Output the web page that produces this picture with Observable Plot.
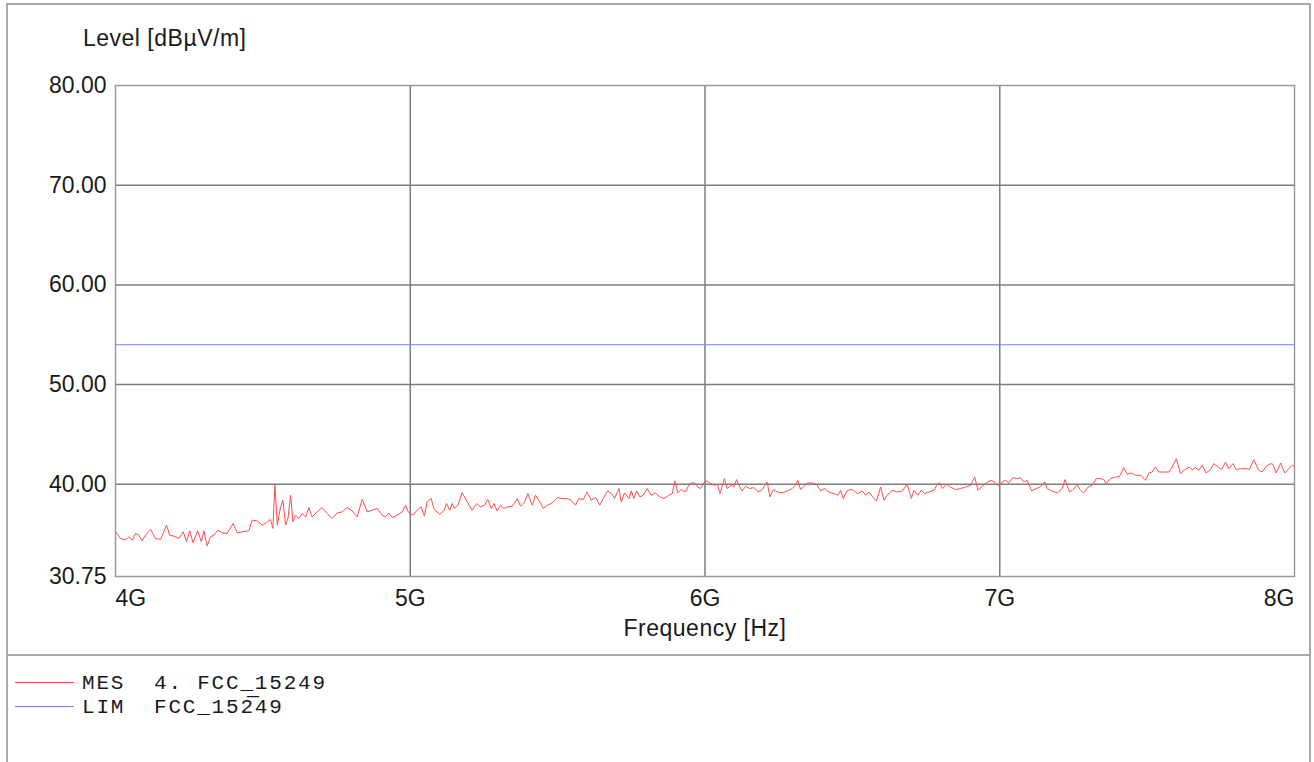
<!DOCTYPE html>
<html><head><meta charset="utf-8">
<script src="https://cdn.jsdelivr.net/npm/d3@7"></script>
<script src="https://cdn.jsdelivr.net/npm/@observablehq/plot@0.6"></script>
<style>
html,body{margin:0;padding:0;background:#fff;width:1314px;height:762px;overflow:hidden;position:relative}
#frame{position:absolute;left:6px;top:3px;width:1301px;height:820px;border:2px solid #a9a9a9;border-bottom:none}
#sep{position:absolute;left:6px;top:654px;width:1305px;height:2px;background:#a9a9a9}
#chart{position:absolute;left:0;top:0}
.lbl{position:absolute;font-family:"Liberation Sans",Arial,sans-serif;font-size:23px;line-height:23px;letter-spacing:0.5px;color:#1a1a1a;white-space:pre}
.leg{position:absolute;left:0;font-family:"Courier New","Liberation Mono",monospace;font-size:21px;line-height:23px;letter-spacing:1.8px;color:#1a1a1a;white-space:pre}
.legline{position:absolute;left:15px;width:59px;height:1px}
</style>
</head><body>
<div id="frame"></div>
<div id="sep"></div>
<div id="chart"></div>
<div class="lbl" id="ylab" style="left:83px;top:27px"></div>
<div class="lbl" id="xlab" style="left:555px;top:617px;width:300px;text-align:center"></div>
<div id="legend"></div>
<script>
// ---- data ----
const yLabel = "Level [dBµV/m]";
const xLabel = "Frequency [Hz]";
const xTicks = [4000, 5000, 6000, 7000, 8000];           // MHz
const xTickLabels = ["4G", "5G", "6G", "7G", "8G"];
const yTicks = [30.75, 40, 50, 60, 70, 80];
const seriesNames = ["MES  4. FCC_15249", "LIM  FCC_152\u030549"];
const seriesColors = ["#ff4d4d", "#8080ff"];

// MES trace: frequency (MHz) and level (dBµV/m)
const mesFreq = [
4000,4017,4034,4045,4057,4068,4079,4090,4102,4119,4136,4153,4173,4184,4198,4215,4230,4241,4252,4263,
4279,4291,4300,4311,4322,4334,4347,4362,4379,4399,4413,4430,4452,4464,4481,4498,4515,4526,4534,4541,
4549,4560,4568,4577,4585,4594,4602,4611,4622,4633,4645,4656,4667,4684,4701,4718,4735,4752,4769,4786,
4803,4820,4837,4854,4871,4888,4905,4916,4927,4939,4956,4973,4984,4993,
5010,5023,5037,5048,5057,5071,5080,5091,5100,5114,5123,5134,5142,5150,5162,5176,5193,5210,5225,5238,
5252,5263,5275,5284,5295,5306,5318,5329,5346,5363,5374,5388,5399,5414,5425,5440,5451,5465,5482,5499,
5516,5533,5546,5561,5572,5587,5600,5614,5629,5643,5659,5670,5685,5693,5708,5716,5727,5742,5750,5759,
5768,5779,5790,5804,5817,5832,5847,5861,5877,5889,5898,5908,5919,5934,5942,5951,5965,5976,5985,5998,
6008,6019,6030,6042,6051,6059,6066,6075,6089,6098,6107,6118,6126,6138,6152,6166,6180,6194,6211,6220,
6232,6245,6262,6279,6296,6307,6315,6324,6336,6347,6364,6379,6392,6406,6420,6437,6451,6460,6469,6483,
6500,6517,6534,6545,6556,6573,6582,6596,6607,6618,6635,6652,6669,6686,6700,6709,6722,6734,6745,6760,
6777,6788,6797,6805,6820,6833,6850,6867,6884,6901,6915,6926,6941,6958,6971,6986,6997,
7008,7020,7031,7044,7059,7070,7082,7093,7108,7124,7138,7153,7161,7176,7195,7212,7221,7237,7248,7263,
7274,7285,7300,7314,7327,7342,7353,7361,7376,7393,7406,7421,7432,7447,7461,7478,7495,7506,7517,7528,
7540,7557,7574,7585,7599,7613,7625,7642,7653,7664,7675,7687,7700,7715,7726,7741,7752,7766,7777,7791,
7802,7817,7834,7847,7862,7877,7890,7904,7919,7927,7938,7953,7967,7981,7992,8000
];
const mesLevel = [
35.23,34.57,34.40,34.73,34.40,35.07,34.90,34.33,34.90,35.47,34.57,34.47,35.90,34.90,34.80,34.57,35.23,34.23,35.33,34.13,
35.33,34.23,35.33,33.80,34.73,34.90,35.40,35.13,35.07,36.07,35.13,35.23,35.33,36.40,36.33,35.90,36.23,36.47,35.57,39.90,
35.90,37.73,38.40,35.90,36.57,38.90,36.23,36.90,36.57,37.07,36.73,37.67,36.73,37.23,37.67,37.07,36.57,37.13,37.23,37.67,
37.33,36.73,38.50,37.23,37.40,37.57,36.90,36.73,37.13,36.67,36.90,37.23,37.90,37.23,
36.90,37.40,37.73,36.80,38.23,38.57,37.57,37.23,37.00,37.33,38.07,37.40,38.07,37.57,37.90,39.17,38.23,37.40,38.07,37.73,
37.90,38.47,37.57,38.07,37.33,37.90,37.57,37.73,37.80,38.57,37.80,38.23,39.07,37.90,38.90,38.23,37.57,37.90,38.13,38.67,
38.57,38.57,38.40,37.90,38.57,38.47,39.23,38.40,38.67,37.90,38.80,39.33,39.00,38.57,39.57,38.23,39.13,38.57,39.33,38.57,
39.33,38.73,38.90,39.57,38.90,39.13,38.73,38.57,38.90,39.07,40.33,39.13,39.47,39.23,39.73,40.13,40.13,39.73,39.57,40.23,
40.33,40.07,39.90,40.00,39.07,39.90,40.57,39.57,39.90,39.73,40.47,39.73,39.33,39.80,39.57,39.67,39.23,39.47,40.23,38.73,
39.47,39.23,39.13,39.33,39.57,39.90,40.40,39.47,39.80,40.13,40.13,40.00,39.33,39.57,39.23,39.07,38.90,39.40,38.57,39.40,
39.47,39.07,39.33,38.90,39.23,38.57,38.33,39.73,38.40,38.90,39.40,39.23,39.33,40.00,38.57,39.40,38.90,39.40,39.07,39.23,
39.40,40.00,40.13,39.57,40.00,39.73,39.47,39.57,39.73,39.90,40.73,39.40,39.80,40.23,40.40,40.13,39.80,
40.23,40.40,40.13,40.67,40.57,40.67,40.23,40.40,39.33,39.57,39.73,40.23,39.57,39.33,39.13,39.57,40.47,39.23,39.47,39.90,
39.40,39.13,39.73,39.90,40.57,40.57,40.47,40.07,40.57,40.73,40.80,41.67,41.00,41.13,40.90,40.90,40.40,41.13,41.23,41.73,
41.23,41.23,41.23,41.73,42.57,41.07,41.40,41.73,41.47,41.67,41.40,41.90,41.13,41.47,42.07,41.73,41.47,42.23,41.57,42.07,
41.47,41.57,41.57,41.47,42.47,41.47,41.23,41.80,42.07,42.00,41.13,42.13,41.13,41.57,41.90,41.80
];
// LIM line
const limFreq = [4000, 8000];
const limLevel = [54, 54];

// ---- build ----
const mes = mesFreq.map((f, i) => ({f, v: mesLevel[i]}));
const lim = limFreq.map((f, i) => ({f, v: limLevel[i]}));
const xfmt = d => xTickLabels[xTicks.indexOf(d)];
const axisText = {tickSize: 0, tickPadding: 13, tickFormat: xfmt, label: null, fill: "#1a1a1a"};
const gridStyle = {stroke: "#7d7d7d", strokeOpacity: 1, strokeWidth: 1.5};

const plot = Plot.plot({
  width: 1314, height: 655,
  marginLeft: 115, marginRight: 20, marginTop: 85, marginBottom: 79,
  x: {domain: [xTicks[0], xTicks[xTicks.length - 1]]},
  y: {domain: [yTicks[0], yTicks[yTicks.length - 1]]},
  style: {fontFamily: "'Liberation Sans', Arial, sans-serif", fontSize: "23px", background: "transparent", overflow: "visible"},
  marks: [
    Plot.gridX(xTicks.slice(1, -1), gridStyle),
    Plot.gridY(yTicks.slice(1, -1), gridStyle),
    Plot.frame({stroke: "#9a9a9a", strokeWidth: 1.5}),
    Plot.line(lim, {x: "f", y: "v", stroke: seriesColors[1], strokeWidth: 1}),
    Plot.line(mes, {x: "f", y: "v", stroke: seriesColors[0], strokeWidth: 1}),
    Plot.axisY(yTicks, {tickSize: 0, tickPadding: 9, tickFormat: d => d.toFixed(2), label: null, fill: "#1a1a1a"}),
    Plot.axisX(xTicks.slice(0, 1), {...axisText, textAnchor: "start"}),
    Plot.axisX(xTicks.slice(1, -1), {...axisText}),
    Plot.axisX(xTicks.slice(-1), {...axisText, textAnchor: "end"})
  ]
});
document.getElementById("chart").appendChild(plot);
document.getElementById("ylab").textContent = yLabel;
document.getElementById("xlab").textContent = xLabel;

const legend = document.getElementById("legend");
seriesNames.forEach((name, i) => {
  const top = 672 + i * 24;
  const ln = document.createElement("div");
  ln.className = "legline";
  ln.style.top = (682 + i * 24) + "px";
  ln.style.background = seriesColors[i];
  legend.appendChild(ln);
  const t = document.createElement("div");
  t.className = "leg";
  t.style.left = "82px";
  t.style.top = top + "px";
  t.textContent = name;
  legend.appendChild(t);
});
</script>
</body></html>
